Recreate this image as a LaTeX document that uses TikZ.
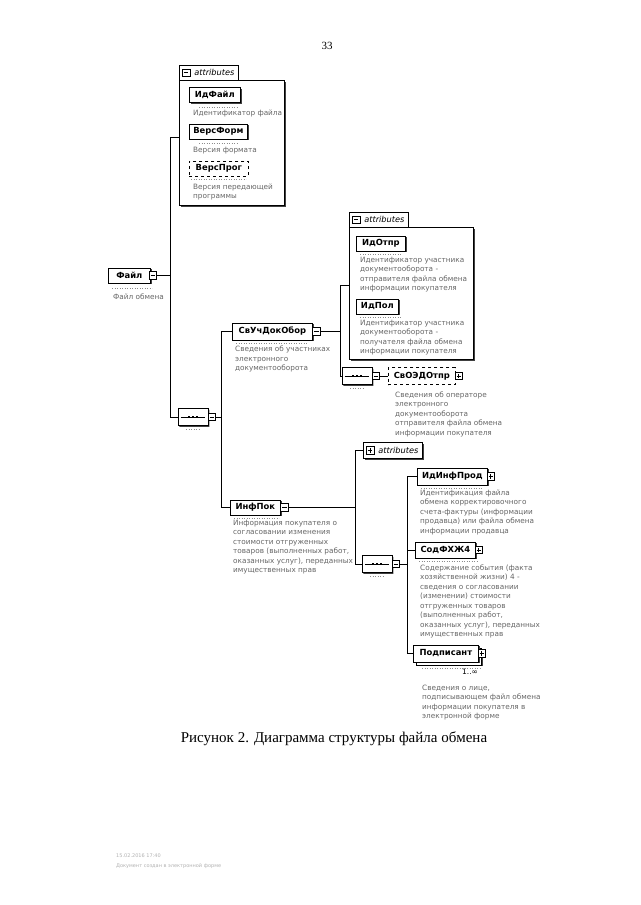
\documentclass[tikz,border=0pt]{standalone}
\usepackage{fontspec}
\setmainfont{Liberation Serif}
\newfontfamily\dv{DejaVu Sans}
\usetikzlibrary{shadows,shapes.misc,calc}
\newcommand\elemfont{\dv\bfseries\fontsize{8.4}{10}\selectfont}
\newcommand\descfont{\dv\fontsize{7.3}{9.5}\selectfont}
\newcommand\attfont{\dv\itshape\fontsize{8.2}{10}\selectfont}
\tikzset{
 conn/.style={line width=0.6pt},
 shad/.style={drop shadow={shadow xshift=1.3pt,shadow yshift=-1.3pt,fill=black!75,opacity=1}},
 elem/.style={draw,line width=0.7pt,fill=white,font=\elemfont,inner xsep=3pt,inner ysep=0pt,minimum height=15pt,anchor=west,shad},
 optelem/.style={draw,dashed,line width=0.7pt,fill=white,font=\elemfont,inner xsep=3pt,inner ysep=0pt,minimum height=15pt,anchor=west},
 desc/.style={anchor=north west,align=left,inner sep=0pt,font=\descfont,text=black!60},
 typeline/.style={dotted,black!45,line width=0.5pt},
 sqbase/.style={draw,fill=white,line width=0.6pt,minimum size=7.5pt,inner sep=0pt,anchor=west},
 collapsebox/.style={sqbase,path picture={\draw[line width=0.6pt] ([xshift=1.5pt]path picture bounding box.west) -- ([xshift=-1.5pt]path picture bounding box.east);}},
 expandbox/.style={sqbase,path picture={\draw[line width=0.6pt] ([xshift=1.5pt]path picture bounding box.west) -- ([xshift=-1.5pt]path picture bounding box.east);\draw[line width=0.6pt] ([yshift=-1.5pt]path picture bounding box.north) -- ([yshift=1.5pt]path picture bounding box.south);}},
 seqnode/.style={chamfered rectangle,chamfered rectangle xsep=5pt,draw,fill=white,line width=0.7pt,minimum width=30pt,minimum height=17pt,inner sep=0pt,shad},
 attrbox/.style={draw,line width=0.7pt,fill=white,shad,inner sep=0pt},
 attrtab/.style={draw,line width=0.7pt,fill=white,font=\attfont,inner xsep=4pt,inner ysep=0pt,minimum height=15pt},
 card/.style={font=\dv\fontsize{7.5}{9}\selectfont,inner sep=0pt}
}
\begin{document}
\begin{tikzpicture}[x=1pt,y=-1pt]
\useasboundingbox (0,0) rectangle (640,905);
\fill[white] (0,0) rectangle (640,905);

\node[font=\fontsize{11}{13}\selectfont] (pg) at (327,46) {33};

% ---------- attributes of Файл
\node[attrbox,anchor=north west,minimum width=105pt,minimum height=125pt] (at1) at (179,80) {};
\node[attrtab,anchor=south west] (at1tab) at (179,80.4) {\hspace*{11pt}attributes};
\node[collapsebox] (at1sq) at ([xshift=3pt]at1tab.west) {};

\node[elem,minimum width=51pt] (idfile) at (189,95) {ИдФайл};
\draw[typeline] ([xshift=10pt,yshift=-4pt]idfile.south west) -- ++(38,0);
\node[desc] (idfiled) at (193,109.5) {Идентификатор файла};

\node[elem,minimum width=58pt] (versform) at (189,131.5) {ВерсФорм};
\draw[typeline] ([xshift=10pt,yshift=-4pt]versform.south west) -- ++(38,0);
\node[desc] (versformd) at (193,146.5) {Версия формата};

\node[optelem,minimum width=59pt] (versprog) at (189,168.5) {ВерсПрог};
\draw[typeline] ([xshift=2pt,yshift=-3pt]versprog.south west) -- ++(55,0);
\node[desc] (versprogd) at (193,183.5) {Версия передающей\\программы};

% ---------- Файл
\node[elem,minimum width=42pt] (file) at (108,275.5) {Файл};
\node[collapsebox] (filesq) at ([xshift=-2pt]file.east) {};
\draw[typeline] ([xshift=4pt,yshift=-5pt]file.south west) -- ++(40,0);
\node[desc] (filed) at (113,293.5) {Файл обмена};

\coordinate (bA1) at (170,137);
\coordinate (bA2) at (170,417);
\draw[conn] (bA1) -- (bA2);
\draw[conn] (bA1) -- (bA1 -| at1.west);
\draw[conn] (filesq.east) -- (filesq.east -| bA1);

% ---------- sequence 1
\node[seqnode] (s1) at (193,417) {};
\node[collapsebox] (s1sq) at ([xshift=-0.5pt]s1.east) {};
\draw[line width=0.7pt] ([xshift=3pt]s1.west) -- ([xshift=-3pt]s1.east);
\foreach \d in {-4,0,4} \fill ([xshift=\d pt]s1.center) +(-1.1pt,-1.1pt) rectangle +(1.1pt,1.1pt);
\draw[typeline] ([xshift=-7pt,yshift=-3pt]s1.south) -- ++(14,0);
\draw[conn] (bA2) -- (s1.west);

\coordinate (bB1) at (221,331.5);
\coordinate (bB2) at (221,507.5);
\draw[conn] (s1sq.east) -- (s1sq.east -| bB1);
\draw[conn] (bB1) -- (bB2);

% ---------- СвУчДокОбор
\node[elem,minimum width=80pt,minimum height=17pt] (svuch) at (232,331.5) {СвУчДокОбор};
\node[collapsebox] (svuchsq) at ([xshift=-0.5pt]svuch.east) {};
\draw[typeline] ([xshift=4pt,yshift=-3pt]svuch.south west) -- ++(72,0);
\node[desc] (svuchd) at (235,346) {Сведения об участниках\\электронного\\документооборота};
\draw[conn] (bB1) -- (svuch.west);

\coordinate (bC1) at (340,285);
\coordinate (bC2) at (340,376);
\draw[conn] (svuchsq.east) -- (svuchsq.east -| bC1);
\draw[conn] (bC1) -- (bC2);

% ---------- attributes of СвУчДокОбор
\node[attrbox,anchor=north west,minimum width=124pt,minimum height=132pt] (at2) at (349,227) {};
\node[attrtab,anchor=south west] (at2tab) at (349,227.4) {\hspace*{11pt}attributes};
\node[collapsebox] (at2sq) at ([xshift=3pt]at2tab.west) {};
\draw[conn] (bC1) -- (bC1 -| at2.west);

\node[elem,minimum width=49pt] (idotpr) at (356,243.5) {ИдОтпр};
\draw[typeline] ([xshift=4pt,yshift=-3pt]idotpr.south west) -- ++(42,0);
\node[desc] (idotprd) at (360,256.5) {Идентификатор участника\\документооборота -\\отправителя файла обмена\\информации покупателя};

\node[elem,minimum width=42pt] (idpol) at (356,306.5) {ИдПол};
\draw[typeline] ([xshift=4pt,yshift=-3pt]idpol.south west) -- ++(42,0);
\node[desc] (idpold) at (360,319.5) {Идентификатор участника\\документооборота -\\получателя файла обмена\\информации покупателя};

% ---------- sequence 2
\node[seqnode] (s2) at (357,376) {};
\node[collapsebox] (s2sq) at ([xshift=-0.5pt]s2.east) {};
\draw[line width=0.7pt] ([xshift=3pt]s2.west) -- ([xshift=-3pt]s2.east);
\foreach \d in {-4,0,4} \fill ([xshift=\d pt]s2.center) +(-1.1pt,-1.1pt) rectangle +(1.1pt,1.1pt);
\draw[typeline] ([xshift=-7pt,yshift=-3pt]s2.south) -- ++(14,0);
\draw[conn] (bC2) -- (s2.west);

\node[optelem,minimum width=67pt,minimum height=17pt] (svoedo) at (388,376) {СвОЭДОтпр};
\node[expandbox] (svoedosq) at ([xshift=-1pt]svoedo.east) {};
\draw[conn] (s2sq.east) -- (svoedo.west);
\node[desc] (svoedod) at (395,391.5) {Сведения об операторе\\электронного\\документооборота\\отправителя файла обмена\\информации покупателя};

% ---------- ИнфПок
\node[elem,minimum width=50pt] (infpok) at (230,507.5) {ИнфПок};
\node[collapsebox] (infpoksq) at ([xshift=-0.5pt]infpok.east) {};
\draw[typeline] ([xshift=4pt,yshift=-3pt]infpok.south west) -- ++(45,0);
\node[desc] (infpokd) at (233,519.5) {Информация покупателя о\\согласовании изменения\\стоимости отгруженных\\товаров (выполненных работ,\\оказанных услуг), переданных\\имущественных прав};
\draw[conn] (bB2) -- (infpok.west);

\coordinate (bD1) at (355,450.5);
\coordinate (bD2) at (355,564);
\draw[conn] (infpoksq.east) -- (infpoksq.east -| bD1);
\draw[conn] (bD1) -- (bD2);

\node[attrtab,anchor=west,minimum height=16pt,shad] (at3) at (363,450.5) {\hspace*{11pt}attributes};
\node[expandbox] (at3sq) at ([xshift=3pt]at3.west) {};
\draw[conn] (bD1) -- (at3.west);

% ---------- sequence 3
\node[seqnode] (s3) at (377,564) {};
\node[collapsebox] (s3sq) at ([xshift=-0.5pt]s3.east) {};
\draw[line width=0.7pt] ([xshift=3pt]s3.west) -- ([xshift=-3pt]s3.east);
\foreach \d in {-4,0,4} \fill ([xshift=\d pt]s3.center) +(-1.1pt,-1.1pt) rectangle +(1.1pt,1.1pt);
\draw[typeline] ([xshift=-7pt,yshift=-3pt]s3.south) -- ++(14,0);
\draw[conn] (bD2) -- (s3.west);

\coordinate (bE1) at (407,476.5);
\coordinate (bE2) at (407,653.5);
\draw[conn] (s3sq.east) -- (s3sq.east -| bE1);
\draw[conn] (bE1) -- (bE2);

% ---------- ИдИнфПрод
\node[elem,minimum width=70pt,minimum height=17pt] (idinf) at (417,476.5) {ИдИнфПрод};
\node[expandbox] (idinfsq) at ([xshift=-1pt]idinf.east) {};
\draw[typeline] ([xshift=4pt,yshift=-3pt]idinf.south west) -- ++(62,0);
\node[desc] (idinfd) at (420,489.5) {Идентификация файла\\обмена корректировочного\\счета-фактуры (информации\\продавца) или файла обмена\\информации продавца};
\draw[conn] (bE1) -- (idinf.west);

% ---------- СодФХЖ4
\node[elem,minimum width=60pt,minimum height=16pt] (sodfh) at (415,550) {СодФХЖ4};
\node[expandbox] (sodfhsq) at ([xshift=-1pt]sodfh.east) {};
\draw[typeline] ([xshift=4pt,yshift=-3pt]sodfh.south west) -- ++(58,0);
\node[desc] (sodfhd) at (420,564.5) {Содержание события (факта\\хозяйственной жизни) 4 -\\сведения о согласовании\\(изменении) стоимости\\отгруженных товаров\\(выполненных работ,\\оказанных услуг), переданных\\имущественных прав};
\draw[conn] (sodfh.west -| bE1) -- (sodfh.west);

% ---------- Подписант
\node[elem,minimum width=65pt,minimum height=17pt] (podpback) at (416,656.5) {};
\node[elem,minimum width=65pt,minimum height=17pt] (podp) at (413,653.5) {Подписант};
\node[expandbox] (podpsq) at ([xshift=-1pt]podp.east) {};
\draw[typeline] ([xshift=6pt,yshift=-3pt]podpback.south west) -- ++(58,0);
\node[card] (podpcard) at (470,672) {1..∞};
\node[desc] (podpd) at (422,684.5) {Сведения о лице,\\подписывающем файл обмена\\информации покупателя в\\электронной форме};
\draw[conn] (bE2) -- (podp.west);

% ---------- caption and footer
\node[font=\fontsize{15}{18}\selectfont] (cap) at (334,739) {Рисунок 2. Диаграмма структуры файла обмена};
\node[anchor=west,inner sep=0pt,font=\dv\fontsize{5}{6}\selectfont,text=black!30] (f1) at (116,856) {15.02.2016 17:40};
\node[anchor=west,inner sep=0pt,font=\dv\fontsize{5}{6}\selectfont,text=black!30] (f2) at (116,866) {Документ создан в электронной форме};
\end{tikzpicture}
\end{document}
